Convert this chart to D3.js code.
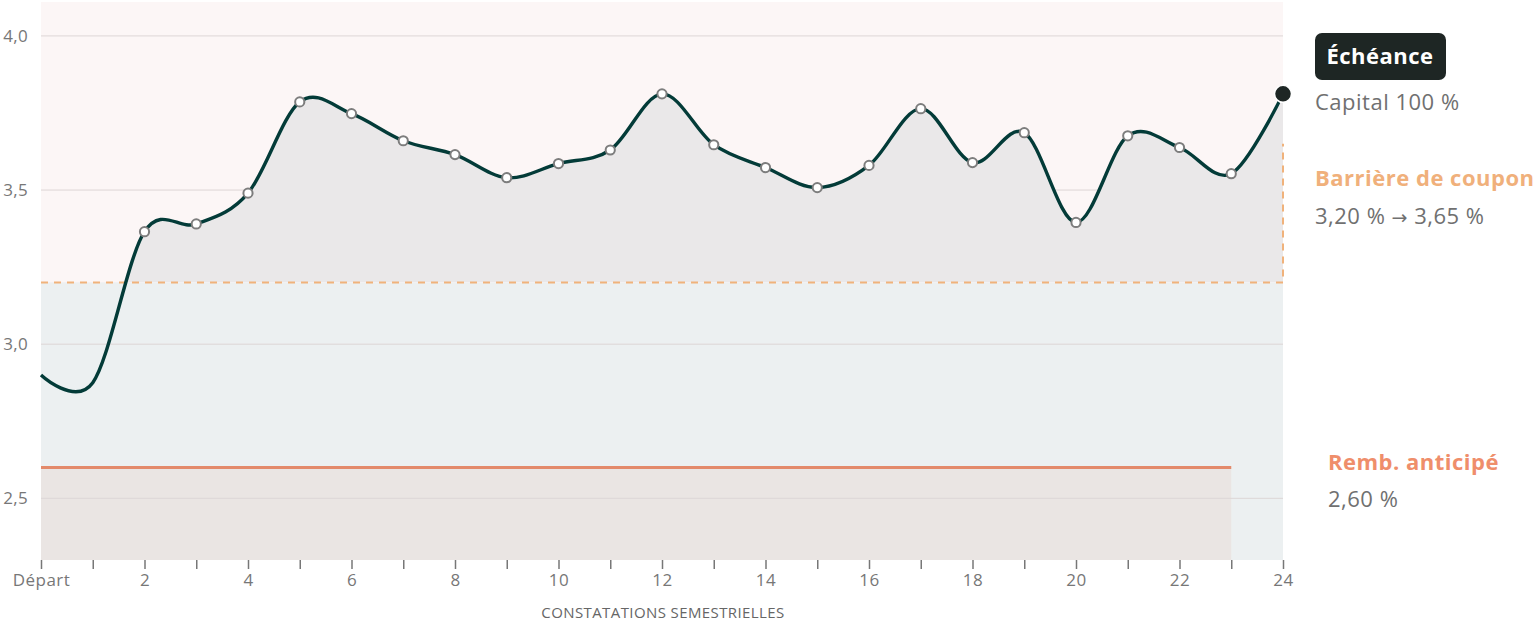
<!DOCTYPE html>
<html>
<head>
<meta charset="utf-8">
<script src="https://cdn.jsdelivr.net/npm/d3@7"></script>
<style>
  body { margin: 0; background: #fff; }
  svg { display: block; font-family: "Open Sans", "Noto Sans", sans-serif; }
</style>
</head>
<body>
<script>
// constatations semestrielles 0..24
const periods = d3.range(0, 25);
const xLabels = ["Départ", "", "2", "", "4", "", "6", "", "8", "", "10", "", "12", "", "14", "", "16", "", "18", "", "20", "", "22", "", "24"];
const values = [2.90, 2.875, 3.365, 3.39, 3.49, 3.786, 3.748, 3.66, 3.615, 3.54, 3.586, 3.63, 3.812,
                3.647, 3.573, 3.508, 3.58, 3.764, 3.589, 3.686, 3.395, 3.676, 3.638, 3.553, 3.812];
const yTicks = [2.5, 3.0, 3.5, 4.0];
const couponBarrier = 3.20;
const couponBarrierEnd = 3.65;
const earlyRedemption = 2.60;
const lastRedemptionPeriod = 23;

const W = 1538, H = 624;
const mLeft = 41, mRight = 1283, mTop = 2, mBottom = 560;

const svg = d3.select("body").append("svg").attr("width", W).attr("height", H);

const x = d3.scaleLinear().domain([0, 24]).range([mLeft, mRight]);
const y = d3.scaleLinear().domain([2.3, 4.11]).range([mBottom, mTop]);

// background bands
svg.append("rect").attr("x", mLeft).attr("y", mTop)
   .attr("width", mRight - mLeft).attr("height", y(couponBarrier) - mTop)
   .attr("fill", "#fcf6f6");
svg.append("rect").attr("x", mLeft).attr("y", y(couponBarrier))
   .attr("width", mRight - mLeft).attr("height", mBottom - y(couponBarrier))
   .attr("fill", "#ecf0f1");
svg.append("rect").attr("x", mLeft).attr("y", y(earlyRedemption))
   .attr("width", x(lastRedemptionPeriod) - mLeft).attr("height", mBottom - y(earlyRedemption))
   .attr("fill", "#eae5e3");

// grid
svg.selectAll(".grid").data(yTicks).enter().append("line")
   .attr("x1", mLeft).attr("x2", mRight)
   .attr("y1", d => y(d)).attr("y2", d => y(d))
   .attr("stroke", "#ddd6d6").attr("stroke-width", 1);

const curve = d3.curveCardinal.tension(0);

// area above the barrier
svg.append("clipPath").attr("id", "above")
   .append("rect").attr("x", mLeft).attr("y", mTop)
   .attr("width", mRight - mLeft).attr("height", y(couponBarrier) - mTop);
svg.append("path").datum(values)
   .attr("clip-path", "url(#above)")
   .attr("d", d3.area().curve(curve)
      .x((d, i) => x(periods[i])).y0(y(couponBarrier)).y1(d => y(d)))
   .attr("fill", "#eae8e9");

// coupon barrier
svg.append("path")
   .attr("d", d3.line()([[mLeft, y(couponBarrier)], [mRight, y(couponBarrier)], [mRight, y(couponBarrierEnd)]]))
   .attr("fill", "none").attr("stroke", "#f0b27b").attr("stroke-width", 2)
   .attr("stroke-dasharray", "7,6");

// early redemption level
svg.append("line")
   .attr("x1", mLeft).attr("x2", x(lastRedemptionPeriod))
   .attr("y1", y(earlyRedemption)).attr("y2", y(earlyRedemption))
   .attr("stroke", "#e38a6b").attr("stroke-width", 3);

// main line
svg.append("path").datum(values)
   .attr("d", d3.line().curve(curve).x((d, i) => x(periods[i])).y(d => y(d)))
   .attr("fill", "none").attr("stroke", "#033b38").attr("stroke-width", 3.4);

svg.selectAll(".pt").data(values.slice(2, 24)).enter().append("circle")
   .attr("cx", (d, i) => x(periods[i + 2])).attr("cy", d => y(d))
   .attr("r", 4.6).attr("fill", "#fff").attr("stroke", "#7d7d7d").attr("stroke-width", 2);

svg.append("circle").attr("cx", x(24)).attr("cy", y(values[24]))
   .attr("r", 8.5).attr("fill", "#1e2624").attr("stroke", "#fff").attr("stroke-width", 1.5);

// y labels
svg.selectAll(".ylab").data(yTicks).enter().append("text")
   .attr("x", 28).attr("y", d => y(d) + 6).attr("text-anchor", "end")
   .attr("font-size", 17).attr("letter-spacing", 0.3).attr("fill", "#777")
   .text(d => d3.format(".1f")(d).replace(".", ","));

// x axis
const xAxis = svg.append("g").attr("transform", `translate(0,${mBottom})`)
   .call(d3.axisBottom(x).tickValues(periods).tickSize(9).tickPadding(5)
      .tickFormat((d, i) => xLabels[i]));
xAxis.select(".domain").remove();
xAxis.selectAll("line").attr("stroke", "#777").attr("stroke-width", 1.5);
xAxis.selectAll("text").attr("font-size", 17).attr("letter-spacing", 0.5).attr("fill", "#777")
   .attr("font-family", "'Open Sans', sans-serif");

svg.append("text").attr("x", 663).attr("y", 618)
   .attr("text-anchor", "middle").attr("font-size", 15).attr("letter-spacing", 0.4).attr("fill", "#666")
   .text("CONSTATATIONS SEMESTRIELLES");

// right annotations
const ann = svg.append("g").attr("letter-spacing", 0.5);
ann.append("rect").attr("x", 1315).attr("y", 33).attr("width", 131).attr("height", 47)
   .attr("rx", 7).attr("fill", "#1e2624");
ann.append("text").attr("x", 1380).attr("y", 64).attr("text-anchor", "middle")
   .attr("font-size", 22).attr("font-weight", 700).attr("fill", "#fff").text("Échéance");
ann.append("text").attr("x", 1315).attr("y", 110)
   .attr("font-size", 22).attr("fill", "#707070").text("Capital 100 %");
ann.append("text").attr("x", 1315).attr("y", 186)
   .attr("font-size", 22).attr("font-weight", 700).attr("fill", "#f0b07b").text("Barrière de coupon");
const range = ann.append("text").attr("x", 1315).attr("y", 224)
   .attr("font-size", 22).attr("fill", "#707070");
range.append("tspan").text("3,20 % ");
range.append("tspan").attr("font-family", "'DejaVu Sans', sans-serif").attr("font-size", 19).text("→");
range.append("tspan").text(" 3,65 %");
ann.append("text").attr("x", 1328).attr("y", 470)
   .attr("font-size", 22).attr("font-weight", 700).attr("fill", "#ef8e6b").text("Remb. anticipé");
ann.append("text").attr("x", 1328).attr("y", 507)
   .attr("font-size", 22).attr("fill", "#707070").text("2,60 %");
</script>
</body>
</html>
